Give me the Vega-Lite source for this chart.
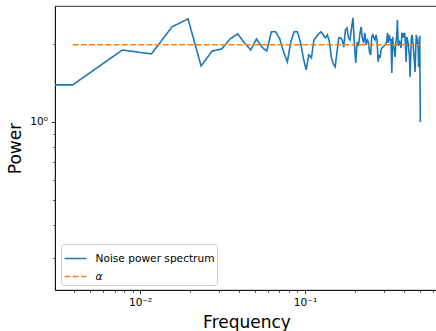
{
"$schema": "https://vega.github.io/schema/vega-lite/v6.json",
"width": 383, "height": 284,
"autosize": {"type": "none"},
"padding": {"left": 55, "top": 6, "right": 0, "bottom": 41},
"background": "white",
"config": {"view": {"stroke": "#000", "strokeWidth": 0.8}, "font": "DejaVu Sans"},
"datasets": {
"spec": [
{"f":0.002,"p":1.388,"s":"Noise power spectrum"},
{"f":0.00390625,"p":1.388,"s":"Noise power spectrum"},
{"f":0.0078125,"p":1.890,"s":"Noise power spectrum"},
{"f":0.01171875,"p":1.826,"s":"Noise power spectrum"},
{"f":0.015625,"p":2.320,"s":"Noise power spectrum"},
{"f":0.01953125,"p":2.489,"s":"Noise power spectrum"},
{"f":0.0234375,"p":1.642,"s":"Noise power spectrum"},
{"f":0.02734375,"p":1.873,"s":"Noise power spectrum"},
{"f":0.03125,"p":1.907,"s":"Noise power spectrum"},
{"f":0.03515625,"p":2.085,"s":"Noise power spectrum"},
{"f":0.0390625,"p":2.181,"s":"Noise power spectrum"},
{"f":0.04296875,"p":2.012,"s":"Noise power spectrum"},
{"f":0.046875,"p":1.890,"s":"Noise power spectrum"},
{"f":0.05078125,"p":2.085,"s":"Noise power spectrum"},
{"f":0.0546875,"p":1.941,"s":"Noise power spectrum"},
{"f":0.05859375,"p":1.873,"s":"Noise power spectrum"},
{"f":0.0625,"p":2.221,"s":"Noise power spectrum"},
{"f":0.06640625,"p":2.221,"s":"Noise power spectrum"},
{"f":0.0703125,"p":2.085,"s":"Noise power spectrum"},
{"f":0.07421875,"p":1.856,"s":"Noise power spectrum"},
{"f":0.078125,"p":1.701,"s":"Noise power spectrum"},
{"f":0.08203125,"p":2.030,"s":"Noise power spectrum"},
{"f":0.0859375,"p":2.221,"s":"Noise power spectrum"},
{"f":0.08984375,"p":2.221,"s":"Noise power spectrum"},
{"f":0.09375,"p":2.030,"s":"Noise power spectrum"},
{"f":0.09765625,"p":1.763,"s":"Noise power spectrum"},
{"f":0.1015625,"p":1.585,"s":"Noise power spectrum"},
{"f":0.10546875,"p":1.810,"s":"Noise power spectrum"},
{"f":0.109375,"p":1.763,"s":"Noise power spectrum"},
{"f":0.11328125,"p":2.067,"s":"Noise power spectrum"},
{"f":0.1171875,"p":2.123,"s":"Noise power spectrum"},
{"f":0.12109375,"p":2.181,"s":"Noise power spectrum"},
{"f":0.125,"p":2.221,"s":"Noise power spectrum"},
{"f":0.12891,"p":2.162,"s":"Noise power spectrum"},
{"f":0.13281,"p":2.104,"s":"Noise power spectrum"},
{"f":0.13672,"p":2.162,"s":"Noise power spectrum"},
{"f":0.14063,"p":2.030,"s":"Noise power spectrum"},
{"f":0.14453,"p":1.763,"s":"Noise power spectrum"},
{"f":0.14844,"p":1.672,"s":"Noise power spectrum"},
{"f":0.15234,"p":1.628,"s":"Noise power spectrum"},
{"f":0.15625,"p":1.856,"s":"Noise power spectrum"},
{"f":0.16016,"p":2.104,"s":"Noise power spectrum"},
{"f":0.16406,"p":2.104,"s":"Noise power spectrum"},
{"f":0.16797,"p":2.067,"s":"Noise power spectrum"},
{"f":0.17188,"p":1.941,"s":"Noise power spectrum"},
{"f":0.17578,"p":2.259,"s":"Noise power spectrum"},
{"f":0.17969,"p":2.298,"s":"Noise power spectrum"},
{"f":0.18359,"p":2.104,"s":"Noise power spectrum"},
{"f":0.1875,"p":2.067,"s":"Noise power spectrum"},
{"f":0.19141,"p":2.298,"s":"Noise power spectrum"},
{"f":0.19531,"p":2.512,"s":"Noise power spectrum"},
{"f":0.19922,"p":1.976,"s":"Noise power spectrum"},
{"f":0.20313,"p":1.686,"s":"Noise power spectrum"},
{"f":0.20703,"p":2.030,"s":"Noise power spectrum"},
{"f":0.21094,"p":1.958,"s":"Noise power spectrum"},
{"f":0.21484,"p":2.162,"s":"Noise power spectrum"},
{"f":0.21875,"p":2.320,"s":"Noise power spectrum"},
{"f":0.22266,"p":2.104,"s":"Noise power spectrum"},
{"f":0.22656,"p":2.012,"s":"Noise power spectrum"},
{"f":0.23047,"p":2.201,"s":"Noise power spectrum"},
{"f":0.23438,"p":1.976,"s":"Noise power spectrum"},
{"f":0.23828,"p":2.067,"s":"Noise power spectrum"},
{"f":0.24219,"p":2.030,"s":"Noise power spectrum"},
{"f":0.24609,"p":1.856,"s":"Noise power spectrum"},
{"f":0.25,"p":1.810,"s":"Noise power spectrum"},
{"f":0.25391,"p":2.123,"s":"Noise power spectrum"},
{"f":0.25781,"p":2.162,"s":"Noise power spectrum"},
{"f":0.26172,"p":2.104,"s":"Noise power spectrum"},
{"f":0.26563,"p":2.067,"s":"Noise power spectrum"},
{"f":0.26953,"p":2.162,"s":"Noise power spectrum"},
{"f":0.27344,"p":2.067,"s":"Noise power spectrum"},
{"f":0.27734,"p":1.701,"s":"Noise power spectrum"},
{"f":0.28125,"p":1.810,"s":"Noise power spectrum"},
{"f":0.28516,"p":1.763,"s":"Noise power spectrum"},
{"f":0.28906,"p":1.890,"s":"Noise power spectrum"},
{"f":0.29297,"p":1.924,"s":"Noise power spectrum"},
{"f":0.29688,"p":1.941,"s":"Noise power spectrum"},
{"f":0.30078,"p":1.958,"s":"Noise power spectrum"},
{"f":0.30469,"p":1.976,"s":"Noise power spectrum"},
{"f":0.30859,"p":1.994,"s":"Noise power spectrum"},
{"f":0.3125,"p":2.030,"s":"Noise power spectrum"},
{"f":0.31641,"p":2.201,"s":"Noise power spectrum"},
{"f":0.32031,"p":2.012,"s":"Noise power spectrum"},
{"f":0.32422,"p":2.162,"s":"Noise power spectrum"},
{"f":0.32813,"p":2.067,"s":"Noise power spectrum"},
{"f":0.33203,"p":2.067,"s":"Noise power spectrum"},
{"f":0.33594,"p":1.543,"s":"Noise power spectrum"},
{"f":0.33984,"p":2.123,"s":"Noise power spectrum"},
{"f":0.34375,"p":1.958,"s":"Noise power spectrum"},
{"f":0.34766,"p":1.890,"s":"Noise power spectrum"},
{"f":0.35156,"p":1.778,"s":"Noise power spectrum"},
{"f":0.35547,"p":2.012,"s":"Noise power spectrum"},
{"f":0.35938,"p":2.123,"s":"Noise power spectrum"},
{"f":0.36328,"p":2.467,"s":"Noise power spectrum"},
{"f":0.36719,"p":1.958,"s":"Noise power spectrum"},
{"f":0.37109,"p":1.994,"s":"Noise power spectrum"},
{"f":0.375,"p":2.030,"s":"Noise power spectrum"},
{"f":0.37891,"p":1.976,"s":"Noise power spectrum"},
{"f":0.38281,"p":1.924,"s":"Noise power spectrum"},
{"f":0.38672,"p":2.201,"s":"Noise power spectrum"},
{"f":0.39063,"p":2.104,"s":"Noise power spectrum"},
{"f":0.39453,"p":2.162,"s":"Noise power spectrum"},
{"f":0.39844,"p":2.123,"s":"Noise power spectrum"},
{"f":0.40234,"p":2.201,"s":"Noise power spectrum"},
{"f":0.40625,"p":1.976,"s":"Noise power spectrum"},
{"f":0.41016,"p":1.701,"s":"Noise power spectrum"},
{"f":0.41406,"p":2.123,"s":"Noise power spectrum"},
{"f":0.41797,"p":2.067,"s":"Noise power spectrum"},
{"f":0.42188,"p":2.012,"s":"Noise power spectrum"},
{"f":0.42578,"p":1.890,"s":"Noise power spectrum"},
{"f":0.42969,"p":1.778,"s":"Noise power spectrum"},
{"f":0.43359,"p":1.490,"s":"Noise power spectrum"},
{"f":0.4375,"p":1.810,"s":"Noise power spectrum"},
{"f":0.44141,"p":2.104,"s":"Noise power spectrum"},
{"f":0.44531,"p":2.162,"s":"Noise power spectrum"},
{"f":0.44922,"p":2.067,"s":"Noise power spectrum"},
{"f":0.45313,"p":1.941,"s":"Noise power spectrum"},
{"f":0.45703,"p":1.810,"s":"Noise power spectrum"},
{"f":0.46094,"p":1.686,"s":"Noise power spectrum"},
{"f":0.46484,"p":1.557,"s":"Noise power spectrum"},
{"f":0.46875,"p":1.890,"s":"Noise power spectrum"},
{"f":0.47266,"p":2.162,"s":"Noise power spectrum"},
{"f":0.47656,"p":2.104,"s":"Noise power spectrum"},
{"f":0.48047,"p":2.012,"s":"Noise power spectrum"},
{"f":0.48438,"p":1.976,"s":"Noise power spectrum"},
{"f":0.48828,"p":1.628,"s":"Noise power spectrum"},
{"f":0.49219,"p":2.067,"s":"Noise power spectrum"},
{"f":0.49609,"p":2.142,"s":"Noise power spectrum"},
{"f":0.5,"p":1.0,"s":"Noise power spectrum"}
],
"alpha": [
{"f":0.00390625,"p":1.98,"s":"α"},
{"f":0.5,"p":1.98,"s":"α"}
]
},
"encoding": {
"x": {"field": "f", "type": "quantitative",
 "scale": {"type": "log", "domain": [0.00305, 0.64], "nice": false},
 "axis": {"title": "Frequency", "grid": false,
  "values": [0.004,0.005,0.006,0.007,0.008,0.009,0.01,0.02,0.03,0.04,0.05,0.06,0.07,0.08,0.09,0.1,0.2,0.3,0.4,0.5,0.6],
  "labelExpr": "datum.value == 0.01 ? '10⁻²' : datum.value == 0.1 ? '10⁻¹' : ''",
  "labelOverlap": false, "labelFlush": false, "labelBound": false,
  "labelFontSize": 10.6, "labelColor": "#000", "labelPadding": 3.7,
  "tickSize": {"condition": {"test": "datum.value == 0.01 || datum.value == 0.1", "value": 3.7}, "value": 2.1},
  "tickColor": "#000", "tickWidth": 0.8, "domainColor": "#000", "domainWidth": 0.8,
  "titleFontSize": 17, "titleFontWeight": "normal", "titleColor": "#000", "titlePadding": 6.5}},
"y": {"field": "p", "type": "quantitative",
 "scale": {"type": "log", "domain": [0.226, 2.79], "nice": false},
 "axis": {"title": "Power", "grid": false,
  "values": [0.3,0.4,0.5,0.6,0.7,0.8,0.9,1,2],
  "labelExpr": "datum.value == 1 ? '10⁰' : ''",
  "labelOverlap": false, "labelFlush": false, "labelBound": false,
  "labelFontSize": 10.6, "labelColor": "#000", "labelPadding": 3.7,
  "tickSize": {"condition": {"test": "datum.value == 1", "value": 3.7}, "value": 2.1},
  "tickColor": "#000", "tickWidth": 0.8, "domainColor": "#000", "domainWidth": 0.8,
  "titleFontSize": 17, "titleFontWeight": "normal", "titleColor": "#000", "titlePadding": 5}},
"color": {"field": "s", "type": "nominal",
 "scale": {"domain": ["Noise power spectrum", "α"], "range": ["#1f77b4", "#ff7f0e"]},
 "legend": {"title": null, "orient": "bottom-left", "offset": 5.5, "symbolType": "stroke", "symbolSize": 484,
  "symbolStrokeWidth": 1.6, "labelFontSize": 10.6, "labelColor": "#000", "labelOffset": 8,
  "padding": 2.5, "rowPadding": 0, "fillColor": "rgba(255,255,255,0.8)", "strokeColor": "#cccccc", "cornerRadius": 3,
  "labelLimit": 300,
  "encode": {"labels": {"update": {"fontStyle": {"signal": "datum.label === 'α' ? 'italic' : 'normal'"}}}}}},
"strokeDash": {"field": "s", "type": "nominal",
 "scale": {"domain": ["Noise power spectrum", "α"], "range": [[1, 0], [5.8, 2.4]]},
 "legend": {"title": null, "orient": "bottom-left", "offset": 5.5, "symbolType": "stroke", "symbolSize": 484,
  "symbolStrokeWidth": 1.6, "labelFontSize": 10.6, "labelColor": "#000", "labelOffset": 8,
  "padding": 2.5, "rowPadding": 0, "fillColor": "rgba(255,255,255,0.8)", "strokeColor": "#cccccc", "cornerRadius": 3,
  "labelLimit": 300,
  "encode": {"labels": {"update": {"fontStyle": {"signal": "datum.label === 'α' ? 'italic' : 'normal'"}}}}}}
},
"layer": [
{"data": {"name": "spec"}, "mark": {"type": "line", "clip": true, "strokeWidth": 1.6}},
{"data": {"name": "alpha"}, "mark": {"type": "line", "clip": true, "strokeWidth": 1.6}}
]
}
